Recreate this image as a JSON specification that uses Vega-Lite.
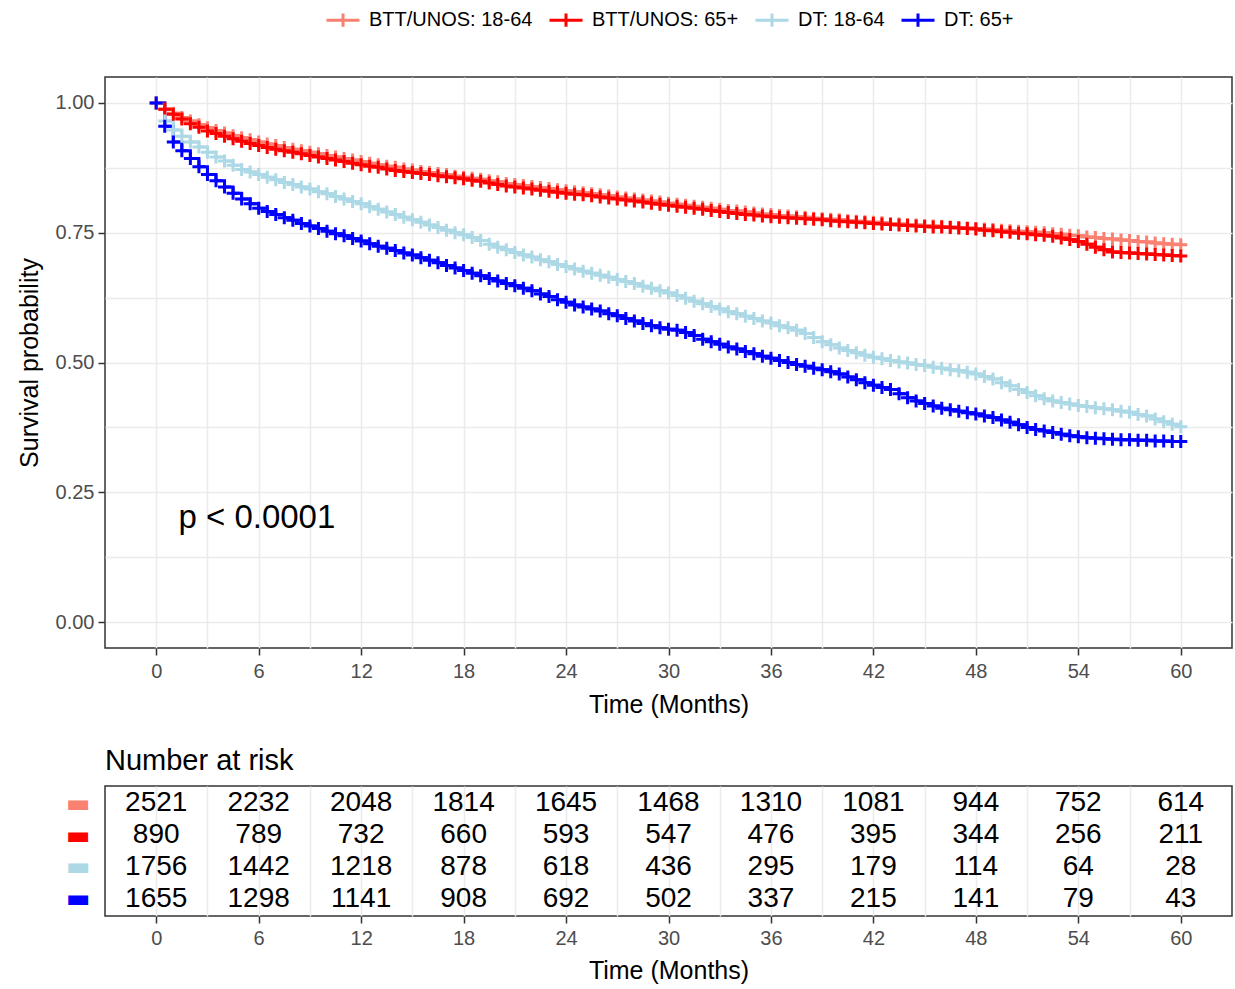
{
  "$schema": "https://vega.github.io/schema/vega-lite/v6.json",
  "padding": {"left": 16, "top": 2, "right": 3, "bottom": 5},
  "config": {
    "font": "Liberation Sans",
    "view": {"stroke": "#333333", "strokeWidth": 1.5},
    "axis": {"labelColor": "#4D4D4D", "labelFontSize": 20, "titleFontSize": 25, "titleFontWeight": "normal", "titleColor": "#000000", "tickColor": "#333333", "tickWidth": 1.5, "tickSize": 7, "labelPadding": 4, "domain": false, "gridColor": "#EBEBEB", "gridWidth": 1.5, "labelOverlap": false}
  },
  "datasets": {
    "surv": [
      {"t":0,"BTT/UNOS: 18-64":1.000,"BTT/UNOS: 65+":1.000,"DT: 18-64":1.000,"DT: 65+":1.000},
      {"t":0.5,"BTT/UNOS: 18-64":0.988,"BTT/UNOS: 65+":0.988,"DT: 18-64":0.965,"DT: 65+":0.955},
      {"t":1,"BTT/UNOS: 18-64":0.980,"BTT/UNOS: 65+":0.978,"DT: 18-64":0.948,"DT: 65+":0.925},
      {"t":1.5,"BTT/UNOS: 18-64":0.972,"BTT/UNOS: 65+":0.969,"DT: 18-64":0.936,"DT: 65+":0.908},
      {"t":2,"BTT/UNOS: 18-64":0.965,"BTT/UNOS: 65+":0.960,"DT: 18-64":0.925,"DT: 65+":0.893},
      {"t":2.5,"BTT/UNOS: 18-64":0.958,"BTT/UNOS: 65+":0.953,"DT: 18-64":0.915,"DT: 65+":0.877},
      {"t":3,"BTT/UNOS: 18-64":0.952,"BTT/UNOS: 65+":0.946,"DT: 18-64":0.905,"DT: 65+":0.862},
      {"t":3.5,"BTT/UNOS: 18-64":0.947,"BTT/UNOS: 65+":0.941,"DT: 18-64":0.896,"DT: 65+":0.850},
      {"t":4,"BTT/UNOS: 18-64":0.942,"BTT/UNOS: 65+":0.936,"DT: 18-64":0.888,"DT: 65+":0.838},
      {"t":4.5,"BTT/UNOS: 18-64":0.937,"BTT/UNOS: 65+":0.931,"DT: 18-64":0.880,"DT: 65+":0.826},
      {"t":5,"BTT/UNOS: 18-64":0.933,"BTT/UNOS: 65+":0.926,"DT: 18-64":0.872,"DT: 65+":0.815},
      {"t":5.5,"BTT/UNOS: 18-64":0.929,"BTT/UNOS: 65+":0.922,"DT: 18-64":0.867,"DT: 65+":0.806},
      {"t":6,"BTT/UNOS: 18-64":0.925,"BTT/UNOS: 65+":0.918,"DT: 18-64":0.862,"DT: 65+":0.797},
      {"t":6.5,"BTT/UNOS: 18-64":0.921,"BTT/UNOS: 65+":0.914,"DT: 18-64":0.857,"DT: 65+":0.791},
      {"t":7,"BTT/UNOS: 18-64":0.918,"BTT/UNOS: 65+":0.911,"DT: 18-64":0.852,"DT: 65+":0.785},
      {"t":7.5,"BTT/UNOS: 18-64":0.914,"BTT/UNOS: 65+":0.908,"DT: 18-64":0.847,"DT: 65+":0.779},
      {"t":8,"BTT/UNOS: 18-64":0.911,"BTT/UNOS: 65+":0.905,"DT: 18-64":0.843,"DT: 65+":0.774},
      {"t":8.5,"BTT/UNOS: 18-64":0.908,"BTT/UNOS: 65+":0.902,"DT: 18-64":0.838,"DT: 65+":0.768},
      {"t":9,"BTT/UNOS: 18-64":0.905,"BTT/UNOS: 65+":0.899,"DT: 18-64":0.834,"DT: 65+":0.763},
      {"t":9.5,"BTT/UNOS: 18-64":0.902,"BTT/UNOS: 65+":0.896,"DT: 18-64":0.829,"DT: 65+":0.758},
      {"t":10,"BTT/UNOS: 18-64":0.899,"BTT/UNOS: 65+":0.893,"DT: 18-64":0.825,"DT: 65+":0.753},
      {"t":10.5,"BTT/UNOS: 18-64":0.896,"BTT/UNOS: 65+":0.890,"DT: 18-64":0.820,"DT: 65+":0.748},
      {"t":11,"BTT/UNOS: 18-64":0.893,"BTT/UNOS: 65+":0.887,"DT: 18-64":0.815,"DT: 65+":0.744},
      {"t":11.5,"BTT/UNOS: 18-64":0.890,"BTT/UNOS: 65+":0.884,"DT: 18-64":0.810,"DT: 65+":0.739},
      {"t":12,"BTT/UNOS: 18-64":0.887,"BTT/UNOS: 65+":0.881,"DT: 18-64":0.806,"DT: 65+":0.734},
      {"t":12.5,"BTT/UNOS: 18-64":0.884,"BTT/UNOS: 65+":0.878,"DT: 18-64":0.800,"DT: 65+":0.729},
      {"t":13,"BTT/UNOS: 18-64":0.881,"BTT/UNOS: 65+":0.876,"DT: 18-64":0.795,"DT: 65+":0.724},
      {"t":13.5,"BTT/UNOS: 18-64":0.878,"BTT/UNOS: 65+":0.873,"DT: 18-64":0.790,"DT: 65+":0.720},
      {"t":14,"BTT/UNOS: 18-64":0.876,"BTT/UNOS: 65+":0.870,"DT: 18-64":0.785,"DT: 65+":0.716},
      {"t":14.5,"BTT/UNOS: 18-64":0.873,"BTT/UNOS: 65+":0.868,"DT: 18-64":0.780,"DT: 65+":0.711},
      {"t":15,"BTT/UNOS: 18-64":0.871,"BTT/UNOS: 65+":0.866,"DT: 18-64":0.775,"DT: 65+":0.707},
      {"t":15.5,"BTT/UNOS: 18-64":0.868,"BTT/UNOS: 65+":0.864,"DT: 18-64":0.770,"DT: 65+":0.702},
      {"t":16,"BTT/UNOS: 18-64":0.866,"BTT/UNOS: 65+":0.862,"DT: 18-64":0.765,"DT: 65+":0.697},
      {"t":16.5,"BTT/UNOS: 18-64":0.864,"BTT/UNOS: 65+":0.860,"DT: 18-64":0.760,"DT: 65+":0.692},
      {"t":17,"BTT/UNOS: 18-64":0.862,"BTT/UNOS: 65+":0.858,"DT: 18-64":0.755,"DT: 65+":0.687},
      {"t":17.5,"BTT/UNOS: 18-64":0.859,"BTT/UNOS: 65+":0.856,"DT: 18-64":0.750,"DT: 65+":0.682},
      {"t":18,"BTT/UNOS: 18-64":0.857,"BTT/UNOS: 65+":0.854,"DT: 18-64":0.746,"DT: 65+":0.677},
      {"t":18.5,"BTT/UNOS: 18-64":0.855,"BTT/UNOS: 65+":0.851,"DT: 18-64":0.741,"DT: 65+":0.672},
      {"t":19,"BTT/UNOS: 18-64":0.853,"BTT/UNOS: 65+":0.849,"DT: 18-64":0.735,"DT: 65+":0.667},
      {"t":19.5,"BTT/UNOS: 18-64":0.850,"BTT/UNOS: 65+":0.846,"DT: 18-64":0.728,"DT: 65+":0.662},
      {"t":20,"BTT/UNOS: 18-64":0.848,"BTT/UNOS: 65+":0.843,"DT: 18-64":0.722,"DT: 65+":0.657},
      {"t":20.5,"BTT/UNOS: 18-64":0.845,"BTT/UNOS: 65+":0.840,"DT: 18-64":0.717,"DT: 65+":0.652},
      {"t":21,"BTT/UNOS: 18-64":0.843,"BTT/UNOS: 65+":0.838,"DT: 18-64":0.712,"DT: 65+":0.648},
      {"t":21.5,"BTT/UNOS: 18-64":0.841,"BTT/UNOS: 65+":0.836,"DT: 18-64":0.707,"DT: 65+":0.643},
      {"t":22,"BTT/UNOS: 18-64":0.839,"BTT/UNOS: 65+":0.834,"DT: 18-64":0.703,"DT: 65+":0.638},
      {"t":22.5,"BTT/UNOS: 18-64":0.837,"BTT/UNOS: 65+":0.832,"DT: 18-64":0.698,"DT: 65+":0.632},
      {"t":23,"BTT/UNOS: 18-64":0.835,"BTT/UNOS: 65+":0.830,"DT: 18-64":0.694,"DT: 65+":0.627},
      {"t":23.5,"BTT/UNOS: 18-64":0.833,"BTT/UNOS: 65+":0.828,"DT: 18-64":0.689,"DT: 65+":0.621},
      {"t":24,"BTT/UNOS: 18-64":0.831,"BTT/UNOS: 65+":0.826,"DT: 18-64":0.685,"DT: 65+":0.616},
      {"t":24.5,"BTT/UNOS: 18-64":0.829,"BTT/UNOS: 65+":0.824,"DT: 18-64":0.680,"DT: 65+":0.611},
      {"t":25,"BTT/UNOS: 18-64":0.827,"BTT/UNOS: 65+":0.823,"DT: 18-64":0.676,"DT: 65+":0.607},
      {"t":25.5,"BTT/UNOS: 18-64":0.825,"BTT/UNOS: 65+":0.821,"DT: 18-64":0.672,"DT: 65+":0.603},
      {"t":26,"BTT/UNOS: 18-64":0.823,"BTT/UNOS: 65+":0.819,"DT: 18-64":0.668,"DT: 65+":0.599},
      {"t":26.5,"BTT/UNOS: 18-64":0.821,"BTT/UNOS: 65+":0.817,"DT: 18-64":0.664,"DT: 65+":0.594},
      {"t":27,"BTT/UNOS: 18-64":0.819,"BTT/UNOS: 65+":0.815,"DT: 18-64":0.660,"DT: 65+":0.590},
      {"t":27.5,"BTT/UNOS: 18-64":0.817,"BTT/UNOS: 65+":0.813,"DT: 18-64":0.656,"DT: 65+":0.585},
      {"t":28,"BTT/UNOS: 18-64":0.815,"BTT/UNOS: 65+":0.811,"DT: 18-64":0.652,"DT: 65+":0.580},
      {"t":28.5,"BTT/UNOS: 18-64":0.813,"BTT/UNOS: 65+":0.809,"DT: 18-64":0.647,"DT: 65+":0.575},
      {"t":29,"BTT/UNOS: 18-64":0.811,"BTT/UNOS: 65+":0.807,"DT: 18-64":0.643,"DT: 65+":0.571},
      {"t":29.5,"BTT/UNOS: 18-64":0.809,"BTT/UNOS: 65+":0.805,"DT: 18-64":0.638,"DT: 65+":0.567},
      {"t":30,"BTT/UNOS: 18-64":0.807,"BTT/UNOS: 65+":0.803,"DT: 18-64":0.634,"DT: 65+":0.564},
      {"t":30.5,"BTT/UNOS: 18-64":0.805,"BTT/UNOS: 65+":0.801,"DT: 18-64":0.629,"DT: 65+":0.562},
      {"t":31,"BTT/UNOS: 18-64":0.803,"BTT/UNOS: 65+":0.799,"DT: 18-64":0.624,"DT: 65+":0.558},
      {"t":31.5,"BTT/UNOS: 18-64":0.801,"BTT/UNOS: 65+":0.797,"DT: 18-64":0.618,"DT: 65+":0.552},
      {"t":32,"BTT/UNOS: 18-64":0.799,"BTT/UNOS: 65+":0.795,"DT: 18-64":0.613,"DT: 65+":0.545},
      {"t":32.5,"BTT/UNOS: 18-64":0.797,"BTT/UNOS: 65+":0.793,"DT: 18-64":0.608,"DT: 65+":0.540},
      {"t":33,"BTT/UNOS: 18-64":0.795,"BTT/UNOS: 65+":0.791,"DT: 18-64":0.603,"DT: 65+":0.535},
      {"t":33.5,"BTT/UNOS: 18-64":0.793,"BTT/UNOS: 65+":0.789,"DT: 18-64":0.598,"DT: 65+":0.530},
      {"t":34,"BTT/UNOS: 18-64":0.792,"BTT/UNOS: 65+":0.787,"DT: 18-64":0.594,"DT: 65+":0.526},
      {"t":34.5,"BTT/UNOS: 18-64":0.790,"BTT/UNOS: 65+":0.785,"DT: 18-64":0.589,"DT: 65+":0.521},
      {"t":35,"BTT/UNOS: 18-64":0.788,"BTT/UNOS: 65+":0.784,"DT: 18-64":0.585,"DT: 65+":0.517},
      {"t":35.5,"BTT/UNOS: 18-64":0.786,"BTT/UNOS: 65+":0.782,"DT: 18-64":0.580,"DT: 65+":0.512},
      {"t":36,"BTT/UNOS: 18-64":0.785,"BTT/UNOS: 65+":0.781,"DT: 18-64":0.576,"DT: 65+":0.508},
      {"t":36.5,"BTT/UNOS: 18-64":0.783,"BTT/UNOS: 65+":0.780,"DT: 18-64":0.571,"DT: 65+":0.504},
      {"t":37,"BTT/UNOS: 18-64":0.782,"BTT/UNOS: 65+":0.779,"DT: 18-64":0.567,"DT: 65+":0.500},
      {"t":37.5,"BTT/UNOS: 18-64":0.781,"BTT/UNOS: 65+":0.778,"DT: 18-64":0.562,"DT: 65+":0.496},
      {"t":38,"BTT/UNOS: 18-64":0.780,"BTT/UNOS: 65+":0.777,"DT: 18-64":0.556,"DT: 65+":0.493},
      {"t":38.5,"BTT/UNOS: 18-64":0.778,"BTT/UNOS: 65+":0.776,"DT: 18-64":0.548,"DT: 65+":0.489},
      {"t":39,"BTT/UNOS: 18-64":0.777,"BTT/UNOS: 65+":0.775,"DT: 18-64":0.540,"DT: 65+":0.486},
      {"t":39.5,"BTT/UNOS: 18-64":0.776,"BTT/UNOS: 65+":0.773,"DT: 18-64":0.534,"DT: 65+":0.482},
      {"t":40,"BTT/UNOS: 18-64":0.775,"BTT/UNOS: 65+":0.772,"DT: 18-64":0.528,"DT: 65+":0.478},
      {"t":40.5,"BTT/UNOS: 18-64":0.773,"BTT/UNOS: 65+":0.771,"DT: 18-64":0.523,"DT: 65+":0.472},
      {"t":41,"BTT/UNOS: 18-64":0.772,"BTT/UNOS: 65+":0.770,"DT: 18-64":0.519,"DT: 65+":0.467},
      {"t":41.5,"BTT/UNOS: 18-64":0.771,"BTT/UNOS: 65+":0.769,"DT: 18-64":0.514,"DT: 65+":0.461},
      {"t":42,"BTT/UNOS: 18-64":0.770,"BTT/UNOS: 65+":0.768,"DT: 18-64":0.510,"DT: 65+":0.456},
      {"t":42.5,"BTT/UNOS: 18-64":0.769,"BTT/UNOS: 65+":0.767,"DT: 18-64":0.507,"DT: 65+":0.452},
      {"t":43,"BTT/UNOS: 18-64":0.768,"BTT/UNOS: 65+":0.766,"DT: 18-64":0.504,"DT: 65+":0.448},
      {"t":43.5,"BTT/UNOS: 18-64":0.767,"BTT/UNOS: 65+":0.765,"DT: 18-64":0.501,"DT: 65+":0.440},
      {"t":44,"BTT/UNOS: 18-64":0.766,"BTT/UNOS: 65+":0.764,"DT: 18-64":0.499,"DT: 65+":0.432},
      {"t":44.5,"BTT/UNOS: 18-64":0.765,"BTT/UNOS: 65+":0.763,"DT: 18-64":0.496,"DT: 65+":0.426},
      {"t":45,"BTT/UNOS: 18-64":0.764,"BTT/UNOS: 65+":0.762,"DT: 18-64":0.494,"DT: 65+":0.421},
      {"t":45.5,"BTT/UNOS: 18-64":0.763,"BTT/UNOS: 65+":0.761,"DT: 18-64":0.491,"DT: 65+":0.416},
      {"t":46,"BTT/UNOS: 18-64":0.762,"BTT/UNOS: 65+":0.761,"DT: 18-64":0.489,"DT: 65+":0.412},
      {"t":46.5,"BTT/UNOS: 18-64":0.761,"BTT/UNOS: 65+":0.760,"DT: 18-64":0.486,"DT: 65+":0.409},
      {"t":47,"BTT/UNOS: 18-64":0.760,"BTT/UNOS: 65+":0.759,"DT: 18-64":0.484,"DT: 65+":0.406},
      {"t":47.5,"BTT/UNOS: 18-64":0.759,"BTT/UNOS: 65+":0.758,"DT: 18-64":0.481,"DT: 65+":0.403},
      {"t":48,"BTT/UNOS: 18-64":0.758,"BTT/UNOS: 65+":0.757,"DT: 18-64":0.478,"DT: 65+":0.401},
      {"t":48.5,"BTT/UNOS: 18-64":0.757,"BTT/UNOS: 65+":0.755,"DT: 18-64":0.473,"DT: 65+":0.397},
      {"t":49,"BTT/UNOS: 18-64":0.756,"BTT/UNOS: 65+":0.754,"DT: 18-64":0.468,"DT: 65+":0.394},
      {"t":49.5,"BTT/UNOS: 18-64":0.755,"BTT/UNOS: 65+":0.752,"DT: 18-64":0.461,"DT: 65+":0.389},
      {"t":50,"BTT/UNOS: 18-64":0.754,"BTT/UNOS: 65+":0.751,"DT: 18-64":0.455,"DT: 65+":0.385},
      {"t":50.5,"BTT/UNOS: 18-64":0.753,"BTT/UNOS: 65+":0.749,"DT: 18-64":0.448,"DT: 65+":0.380},
      {"t":51,"BTT/UNOS: 18-64":0.752,"BTT/UNOS: 65+":0.748,"DT: 18-64":0.442,"DT: 65+":0.375},
      {"t":51.5,"BTT/UNOS: 18-64":0.751,"BTT/UNOS: 65+":0.746,"DT: 18-64":0.436,"DT: 65+":0.371},
      {"t":52,"BTT/UNOS: 18-64":0.750,"BTT/UNOS: 65+":0.745,"DT: 18-64":0.430,"DT: 65+":0.368},
      {"t":52.5,"BTT/UNOS: 18-64":0.748,"BTT/UNOS: 65+":0.743,"DT: 18-64":0.426,"DT: 65+":0.365},
      {"t":53,"BTT/UNOS: 18-64":0.747,"BTT/UNOS: 65+":0.740,"DT: 18-64":0.423,"DT: 65+":0.362},
      {"t":53.5,"BTT/UNOS: 18-64":0.745,"BTT/UNOS: 65+":0.737,"DT: 18-64":0.420,"DT: 65+":0.359},
      {"t":54,"BTT/UNOS: 18-64":0.744,"BTT/UNOS: 65+":0.733,"DT: 18-64":0.417,"DT: 65+":0.357},
      {"t":54.5,"BTT/UNOS: 18-64":0.742,"BTT/UNOS: 65+":0.728,"DT: 18-64":0.415,"DT: 65+":0.355},
      {"t":55,"BTT/UNOS: 18-64":0.741,"BTT/UNOS: 65+":0.722,"DT: 18-64":0.413,"DT: 65+":0.354},
      {"t":55.5,"BTT/UNOS: 18-64":0.739,"BTT/UNOS: 65+":0.717,"DT: 18-64":0.411,"DT: 65+":0.353},
      {"t":56,"BTT/UNOS: 18-64":0.738,"BTT/UNOS: 65+":0.713,"DT: 18-64":0.409,"DT: 65+":0.352},
      {"t":56.5,"BTT/UNOS: 18-64":0.736,"BTT/UNOS: 65+":0.712,"DT: 18-64":0.406,"DT: 65+":0.351},
      {"t":57,"BTT/UNOS: 18-64":0.735,"BTT/UNOS: 65+":0.711,"DT: 18-64":0.404,"DT: 65+":0.351},
      {"t":57.5,"BTT/UNOS: 18-64":0.733,"BTT/UNOS: 65+":0.710,"DT: 18-64":0.400,"DT: 65+":0.350},
      {"t":58,"BTT/UNOS: 18-64":0.732,"BTT/UNOS: 65+":0.709,"DT: 18-64":0.397,"DT: 65+":0.350},
      {"t":58.5,"BTT/UNOS: 18-64":0.730,"BTT/UNOS: 65+":0.708,"DT: 18-64":0.391,"DT: 65+":0.349},
      {"t":59,"BTT/UNOS: 18-64":0.729,"BTT/UNOS: 65+":0.707,"DT: 18-64":0.386,"DT: 65+":0.349},
      {"t":59.5,"BTT/UNOS: 18-64":0.728,"BTT/UNOS: 65+":0.706,"DT: 18-64":0.381,"DT: 65+":0.348},
      {"t":60,"BTT/UNOS: 18-64":0.727,"BTT/UNOS: 65+":0.705,"DT: 18-64":0.376,"DT: 65+":0.348}
    ],
    "risk": [
      {"grp":"BTT/UNOS: 18-64","t":0,"n":2521},{"grp":"BTT/UNOS: 18-64","t":6,"n":2232},{"grp":"BTT/UNOS: 18-64","t":12,"n":2048},{"grp":"BTT/UNOS: 18-64","t":18,"n":1814},{"grp":"BTT/UNOS: 18-64","t":24,"n":1645},{"grp":"BTT/UNOS: 18-64","t":30,"n":1468},{"grp":"BTT/UNOS: 18-64","t":36,"n":1310},{"grp":"BTT/UNOS: 18-64","t":42,"n":1081},{"grp":"BTT/UNOS: 18-64","t":48,"n":944},{"grp":"BTT/UNOS: 18-64","t":54,"n":752},{"grp":"BTT/UNOS: 18-64","t":60,"n":614},
      {"grp":"BTT/UNOS: 65+","t":0,"n":890},{"grp":"BTT/UNOS: 65+","t":6,"n":789},{"grp":"BTT/UNOS: 65+","t":12,"n":732},{"grp":"BTT/UNOS: 65+","t":18,"n":660},{"grp":"BTT/UNOS: 65+","t":24,"n":593},{"grp":"BTT/UNOS: 65+","t":30,"n":547},{"grp":"BTT/UNOS: 65+","t":36,"n":476},{"grp":"BTT/UNOS: 65+","t":42,"n":395},{"grp":"BTT/UNOS: 65+","t":48,"n":344},{"grp":"BTT/UNOS: 65+","t":54,"n":256},{"grp":"BTT/UNOS: 65+","t":60,"n":211},
      {"grp":"DT: 18-64","t":0,"n":1756},{"grp":"DT: 18-64","t":6,"n":1442},{"grp":"DT: 18-64","t":12,"n":1218},{"grp":"DT: 18-64","t":18,"n":878},{"grp":"DT: 18-64","t":24,"n":618},{"grp":"DT: 18-64","t":30,"n":436},{"grp":"DT: 18-64","t":36,"n":295},{"grp":"DT: 18-64","t":42,"n":179},{"grp":"DT: 18-64","t":48,"n":114},{"grp":"DT: 18-64","t":54,"n":64},{"grp":"DT: 18-64","t":60,"n":28},
      {"grp":"DT: 65+","t":0,"n":1655},{"grp":"DT: 65+","t":6,"n":1298},{"grp":"DT: 65+","t":12,"n":1141},{"grp":"DT: 65+","t":18,"n":908},{"grp":"DT: 65+","t":24,"n":692},{"grp":"DT: 65+","t":30,"n":502},{"grp":"DT: 65+","t":36,"n":337},{"grp":"DT: 65+","t":42,"n":215},{"grp":"DT: 65+","t":48,"n":141},{"grp":"DT: 65+","t":54,"n":79},{"grp":"DT: 65+","t":60,"n":43}
    ]
  },
  "spacing": 28,
  "vconcat": [
    {
      "width": 1127,
      "height": 571,
      "data": {"name": "surv"},
      "transform": [{"fold": ["BTT/UNOS: 18-64", "BTT/UNOS: 65+", "DT: 18-64", "DT: 65+"], "as": ["grp", "s"]}],
      "layer": [
        {
          "mark": {"type": "line", "interpolate": "step-after", "strokeWidth": 3},
          "encoding": {
            "x": {"field": "t", "type": "quantitative", "scale": {"domain": [-3, 63], "nice": false, "zero": false},
              "axis": {"values": [0,3,6,9,12,15,18,21,24,27,30,33,36,39,42,45,48,51,54,57,60], "labelExpr": "datum.value % 6 === 0 ? datum.label : ''", "tickOpacity": {"condition": {"test": "datum.value % 6 === 0", "value": 1}, "value": 0}, "title": "Time (Months)", "labelPadding": 6, "titlePadding": 11}},
            "y": {"field": "s", "type": "quantitative", "scale": {"domain": [-0.05, 1.05], "nice": false, "zero": false},
              "axis": {"values": [0,0.125,0.25,0.375,0.5,0.625,0.75,0.875,1], "labelExpr": "(datum.value*8) % 2 === 0 ? format(datum.value, '.2f') : ''", "tickOpacity": {"condition": {"test": "(datum.value*8) % 2 === 0", "value": 1}, "value": 0}, "title": "Survival probability", "titlePadding": 13}},
            "color": {"field": "grp", "type": "nominal",
              "scale": {"domain": ["BTT/UNOS: 18-64", "BTT/UNOS: 65+", "DT: 18-64", "DT: 65+"], "range": ["#FA8072", "#FF0000", "#ADD8E6", "#0000FF"]},
              "legend": {"orient": "none", "legendX": 220, "legendY": -75, "direction": "horizontal", "title": null, "labelFontSize": 20, "labelColor": "#000000", "labelFont": "Liberation Sans", "labelLimit": 0, "symbolType": "M-1,0H1M0,-0.4V0.4", "symbolSize": 1089, "symbolStrokeWidth": 3, "symbolFillColor": "transparent", "columnPadding": 10, "labelOffset": 8}}
          }
        },
        {
          "mark": {"type": "point", "shape": "M-1,0H1M0,-1V1", "size": 169, "strokeWidth": 3, "filled": false, "opacity": 1},
          "encoding": {
            "x": {"field": "t", "type": "quantitative"},
            "y": {"field": "s", "type": "quantitative"},
            "color": {"field": "grp", "type": "nominal"},
            "order": {"field": "grp", "type": "ordinal"}
          }
        },
        {
          "data": {"values": [{"label": "p < 0.0001"}]},
          "transform": [],
          "mark": {"type": "text", "align": "left", "baseline": "middle", "fontSize": 33, "color": "#000000"},
          "encoding": {
            "x": {"datum": 1.3, "type": "quantitative"},
            "y": {"datum": 0.2, "type": "quantitative"},
            "text": {"field": "label"}
          }
        }
      ]
    },
    {
      "width": 1127,
      "height": 130,
      "title": {"text": "Number at risk", "anchor": "start", "frame": "group", "fontSize": 29, "fontWeight": "normal", "color": "#000000", "font": "Liberation Sans", "offset": 10},
      "data": {"name": "risk"},
      "mark": {"type": "text", "fontSize": 28, "baseline": "middle", "color": "#000000"},
      "encoding": {
        "x": {"field": "t", "type": "quantitative", "scale": {"domain": [-3, 63], "nice": false, "zero": false},
          "axis": {"values": [0,3,6,9,12,15,18,21,24,27,30,33,36,39,42,45,48,51,54,57,60], "labelExpr": "datum.value % 6 === 0 ? datum.label : ''", "tickOpacity": {"condition": {"test": "datum.value % 6 === 0", "value": 1}, "value": 0}, "title": "Time (Months)", "labelPadding": 5, "titlePadding": 10}},
        "y": {"field": "grp", "type": "nominal", "sort": ["BTT/UNOS: 18-64", "BTT/UNOS: 65+", "DT: 18-64", "DT: 65+"], "scale": {"type": "point", "padding": 0.55},
          "axis": {"title": null, "ticks": false, "tickSize": 0, "labelPadding": 15, "labelExpr": "'▬'", "labelFont": "DejaVu Sans", "labelFontSize": 26,
            "labelColor": {"condition": [{"test": "datum.value === 'BTT/UNOS: 18-64'", "value": "#FA8072"}, {"test": "datum.value === 'BTT/UNOS: 65+'", "value": "#FF0000"}, {"test": "datum.value === 'DT: 18-64'", "value": "#ADD8E6"}], "value": "#0000FF"}}},
        "text": {"field": "n", "type": "quantitative", "format": "d"}
      }
    }
  ]
}
